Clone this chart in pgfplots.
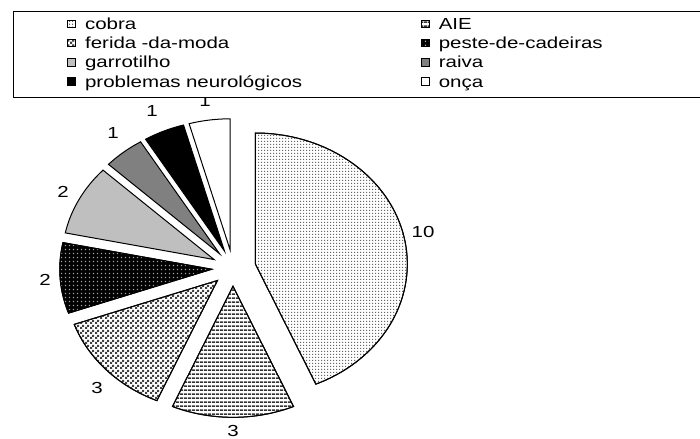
\documentclass[border=0pt]{standalone}
\usepackage{fontspec}
\setmainfont{Liberation Sans}[FakeStretch=1.28]
\usepackage{pgfplots}
\pgfplotsset{compat=1.18}
\usepackage{pgfplotstable}
\usetikzlibrary{patterns}

\pgfdeclarepatternformonly{cobradots}{\pgfqpoint{0bp}{0bp}}{\pgfqpoint{3bp}{3bp}}{\pgfqpoint{3bp}{3bp}}{%
  \pgfpathrectangle{\pgfqpoint{0bp}{0bp}}{\pgfqpoint{1.5bp}{1.5bp}}\pgfusepath{fill}}
\pgfdeclarepatternformonly{hlines}{\pgfqpoint{0bp}{0bp}}{\pgfqpoint{4bp}{4bp}}{\pgfqpoint{4bp}{4bp}}{%
  \pgfpathrectangle{\pgfqpoint{0bp}{0bp}}{\pgfqpoint{4bp}{2bp}}\pgfusepath{fill}}
\pgfdeclarepatternformonly{checkdots}{\pgfqpoint{0bp}{0bp}}{\pgfqpoint{5bp}{5bp}}{\pgfqpoint{5bp}{5bp}}{%
  \pgfpathrectangle{\pgfqpoint{0bp}{0bp}}{\pgfqpoint{2.5bp}{2.5bp}}%
  \pgfpathrectangle{\pgfqpoint{2.5bp}{2.5bp}}{\pgfqpoint{2.5bp}{2.5bp}}\pgfusepath{fill}}
\pgfdeclarepatternformonly{griddots}{\pgfqpoint{0bp}{0bp}}{\pgfqpoint{4bp}{4bp}}{\pgfqpoint{4bp}{4bp}}{%
  \pgfpathrectangle{\pgfqpoint{1bp}{1bp}}{\pgfqpoint{1.5bp}{1.5bp}}\pgfusepath{fill}}

\tikzset{
  slbase/.style={draw=black, line width=1bp},
  sl0/.style={slbase, fill=white, postaction={pattern=cobradots, pattern color=black!60}},
  sl1/.style={slbase, fill=white, postaction={pattern=hlines, pattern color=black!80}},
  sl2/.style={slbase, fill=white, postaction={pattern=checkdots, pattern color=black!75}},
  sl3/.style={slbase, fill=black, postaction={pattern=griddots, pattern color=black!35}},
  sl4/.style={slbase, fill=black!25},
  sl5/.style={slbase, fill=black!50},
  sl6/.style={slbase, fill=black},
  sl7/.style={slbase, fill=white},
}

\newcommand\labfont{\fontsize{16bp}{19bp}\selectfont}

% value, explode (data units), label position (data units)
\pgfplotstableread{
value explode lx ly
10 0.15 1.25 0.275
3 0.14 0 -1.245
3 0.14 -0.895 -0.916
2 0.14 -1.237 -0.092
2 0.14 -1.118 0.58
1 0.14 -0.789 1.03
1 0.14 -0.533 1.198
1 0.14 -0.184 1.275
}\piedata

\begin{document}
\begin{tikzpicture}
\useasboundingbox (0,0) rectangle (700bp,439bp);
\clip (0,0) rectangle (700bp,439bp);
\begin{axis}[
  at={(233bp,171bp)}, anchor=origin,
  x=152bp, y=131bp,
  xmin=-1.6, xmax=1.6, ymin=-1.4, ymax=1.6,
  hide axis, clip=false,
  legend columns=2,
  legend cell align=left,
  legend entries={cobra, AIE, ferida -da-moda, peste-de-cadeiras, garrotilho, raiva, problemas neurológicos, onça},
  legend image code/.code={\draw[#1, line width=0.7bp] (0bp,-1.6bp) rectangle (8bp,5.8bp);},
  legend style={at={(0.0477,1.1206)}, anchor=north west, draw=black, line width=0.8bp,
    fill=white, font=\labfont, inner xsep=54bp, inner ysep=5.8bp, row sep=2.3bp,
    nodes={inner sep=0pt, text height=12bp, text depth=5bp, text width=300bp, align=left},
    /tikz/every odd column/.append style={column sep=9bp},
    /tikz/every even column/.append style={column sep=36bp}},
]
\def\total{0}
\pgfplotsforeachungrouped \i in {0,1,...,7}{%
  \pgfplotstablegetelem{\i}{value}\of\piedata
  \pgfmathsetmacro\total{\total+\pgfplotsretval}%
}
\def\cum{0}
\pgfplotsforeachungrouped \i in {0,1,...,7}{%
  \pgfplotstablegetelem{\i}{value}\of\piedata \edef\v{\pgfplotsretval}%
  \pgfplotstablegetelem{\i}{explode}\of\piedata \edef\ex{\pgfplotsretval}%
  \pgfplotstablegetelem{\i}{lx}\of\piedata \edef\lx{\pgfplotsretval}%
  \pgfplotstablegetelem{\i}{ly}\of\piedata \edef\ly{\pgfplotsretval}%
  \pgfmathsetmacro\sa{90-360*\cum/\total}%
  \pgfmathsetmacro\cum{\cum+\v}%
  \pgfmathsetmacro\ea{90-360*\cum/\total}%
  \pgfmathsetmacro\ma{(\sa+\ea)/2}%
  \pgfmathsetmacro\ox{\ex*cos(\ma)}%
  \pgfmathsetmacro\oy{\ex*sin(\ma)}%
  \edef\temp{\noexpand\addplot[sl\i, domain=\ea:\sa, samples=90] ({\ox+cos(x)},{\oy+sin(x)}) -- (axis cs:\ox,\oy) -- cycle;}%
  \temp
  \edef\temp{\noexpand\node[font=\noexpand\labfont] at (axis cs:\lx,\ly) {\v};}%
  \temp
}
\end{axis}
\end{tikzpicture}
\end{document}
